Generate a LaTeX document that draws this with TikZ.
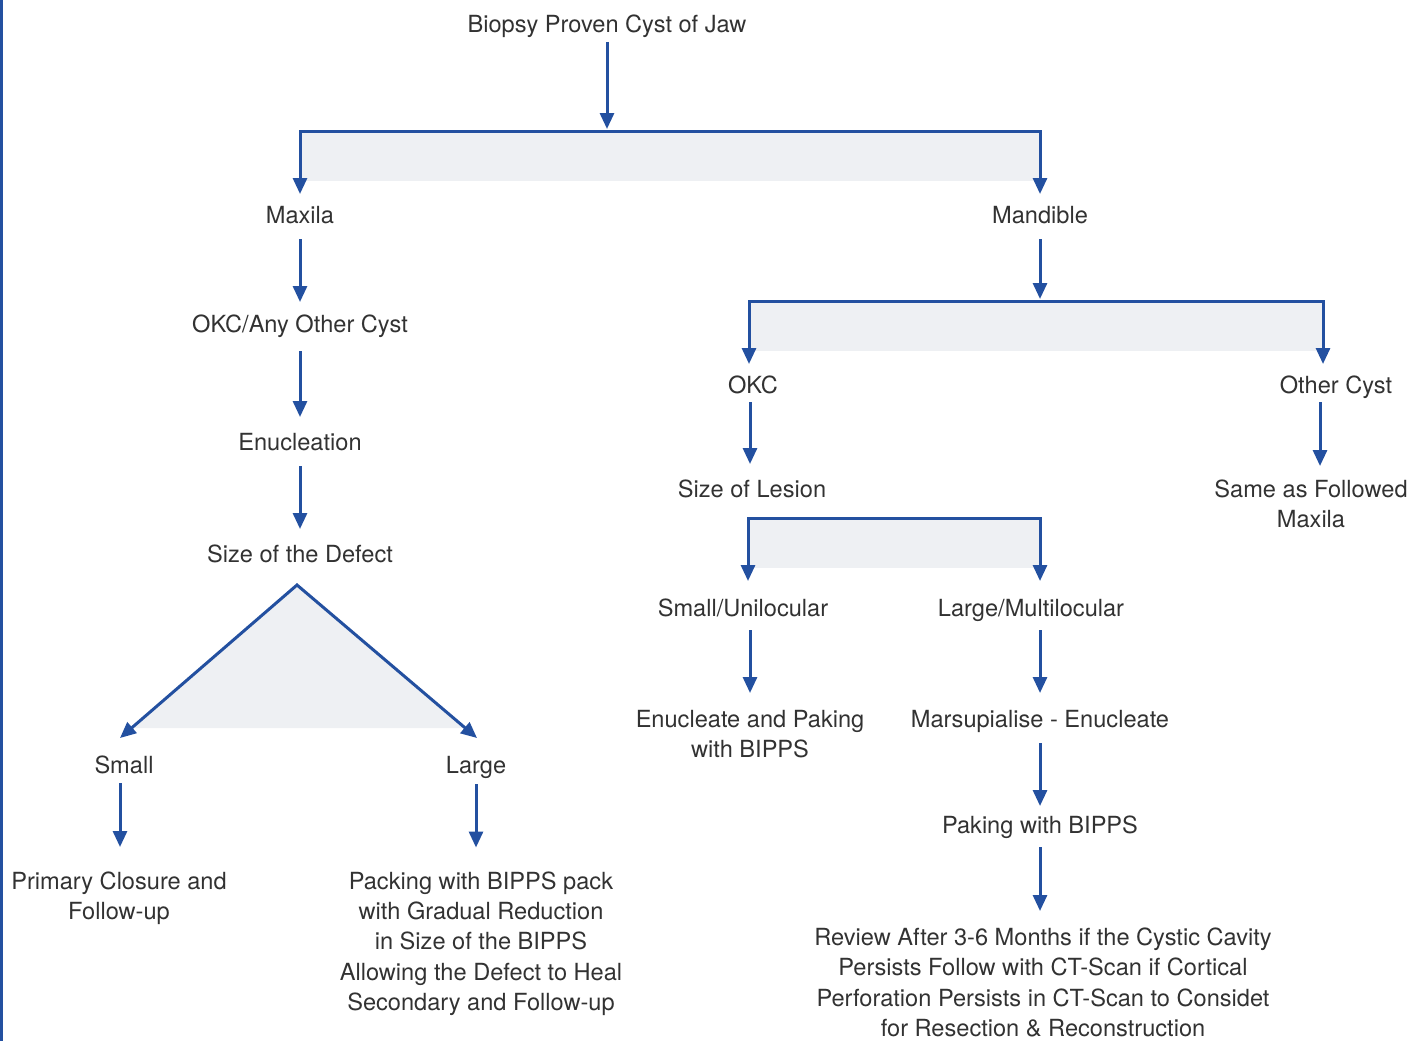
\documentclass[tikz,border=0pt]{standalone}
\usepackage{fontspec}
\setmainfont{TeX Gyre Heros}
\usetikzlibrary{arrows.meta}
\definecolor{fblue}{RGB}{35,80,160}
\definecolor{fgrey}{RGB}{238,240,243}
\definecolor{ftext}{RGB}{50,50,50}
\begin{document}
\begin{tikzpicture}[x=1pt,y=-1pt,
  lbl/.style={inner sep=0pt, outer sep=0pt, text height=18pt, text depth=5pt, anchor=base, text=ftext, font=\fontsize{23.6}{30.3}\selectfont},
  mlbl/.style={inner sep=0pt, outer sep=0pt, anchor=north, align=center, text=ftext, font=\fontsize{23.6}{30.3}\selectfont},
  arr/.style={draw=fblue, line width=3pt, -{Triangle[width=14pt,length=16pt]}, shorten <=11pt, shorten >=12pt},
  brk/.style={draw=fblue, line width=3pt, line join=miter, {Triangle[width=14pt,length=16pt]}-{Triangle[width=14pt,length=16pt]}, shorten <=11pt, shorten >=11pt},
  shade/.style={fill=fgrey, draw=none}]
\useasboundingbox (0,0) rectangle (1410,1041);
\draw[fblue, line width=2.5pt] (1.5,0) -- (1.5,1041);

% nodes
\node[lbl] (title) at (607,33) {Biopsy Proven Cyst of Jaw};
\node[lbl] (maxila) at (300,223) {Maxila};
\node[lbl] (mandible) at (1040,223) {Mandible};
\node[lbl] (okcany) at (300,332) {OKC/Any Other Cyst};
\node[lbl] (enuc) at (300,450) {Enucleation};
\node[lbl] (sizedef) at (300,562) {Size of the Defect};
\node[lbl] (small) at (124,773) {Small};
\node[lbl] (large) at (476,773) {Large};
\node[mlbl] (primary) at (119,872) {Primary Closure and\\Follow-up};
\node[mlbl] (packing) at (481,871.5) {Packing with BIPPS pack\\with Gradual Reduction\\in Size of the BIPPS\\Allowing the Defect to Heal\\Secondary and Follow-up};
\node[lbl] (okc) at (753,393) {OKC};
\node[lbl] (other) at (1336,393) {Other Cyst};
\node[lbl] (sizeles) at (752,497) {Size of Lesion};
\node[mlbl] (same) at (1311,480) {Same as Followed\\Maxila};
\node[lbl] (smalluni) at (743,616) {Small/Unilocular};
\node[lbl] (largemulti) at (1031,616) {Large/Multilocular};
\node[mlbl] (enucpak) at (750,710) {Enucleate and Paking\\with BIPPS};
\node[lbl] (marsup) at (1040,727) {Marsupialise - Enucleate};
\node[lbl] (paking) at (1040,833) {Paking with BIPPS};
\node[mlbl] (review) at (1043,928) {Review After 3-6 Months if the Cystic Cavity\\Persists Follow with CT-Scan if Cortical\\Perforation Persists in CT-Scan to Considet\\for Resection \& Reconstruction};

% junction coordinates
\coordinate (b1) at (607,131);
\coordinate (b2) at (1040,301);
\coordinate (b3) at (894,518);
\coordinate (apex) at (297,585);
\coordinate (tl) at (120,738);
\coordinate (tr) at (477,738);

% shaded areas
\fill[shade] (300,131) rectangle (1040,181);
\fill[shade] (749,301) rectangle (1323,351);
\fill[shade] (748,518) rectangle (1040,568);
\fill[shade] (apex) -- (132,728) -- (465,728) -- cycle;

% brackets
\draw[brk] (maxila.north) |- (b1) -| (mandible.north);
\draw[brk] ([xshift=-4pt]okc.north) |- (b2) -| ([xshift=-13pt]other.north);
\draw[brk, shorten <=17pt, shorten >=17pt] ([xshift=5pt]smalluni.north) |- (b3) -| ([xshift=9pt]largemulti.north);
\draw[brk, shorten <=0pt, shorten >=0pt] (tl) -- (apex) -- (tr);

% arrows
\draw[arr, shorten <=4pt, shorten >=2pt] (title.south) -- (b1);
\draw[arr] (maxila.south) -- (okcany.north);
\draw[arr, shorten <=14pt, shorten >=15pt] (okcany.south) -- (enuc.north);
\draw[arr, shorten <=11pt, shorten >=15pt] (enuc.south) -- (sizedef.north);
\draw[arr, shorten >=2pt] (mandible.south) -- (b2);
\draw[arr, shorten <=4pt, shorten >=15pt] ([xshift=-3pt]okc.south) -- ([xshift=-3pt]okc.south |- sizeles.north);
\draw[arr, shorten <=4pt, shorten >=14pt] ([xshift=-16pt]other.south) -- ([xshift=-16pt]other.south |- same.north);
\draw[arr, shorten <=9pt, shorten >=17pt] ([xshift=7pt]smalluni.south) -- ([xshift=7pt]smalluni.south |- enucpak.north);
\draw[arr, shorten <=9pt, shorten >=16pt] ([xshift=9pt]largemulti.south) -- ([xshift=9pt]largemulti.south |- marsup.north);
\draw[arr, shorten <=11pt, shorten >=9pt] (marsup.south) -- (paking.north);
\draw[arr, shorten <=9pt, shorten >=17pt] (paking.south) -- (paking.south |- review.north);
\draw[arr, shorten <=5pt, shorten >=25pt] ([xshift=-4pt]small.south) -- ([xshift=-4pt]small.south |- primary.north);
\draw[arr, shorten <=6pt, shorten >=24pt] (large.south) -- (large.south |- packing.north);
\end{tikzpicture}
\end{document}
